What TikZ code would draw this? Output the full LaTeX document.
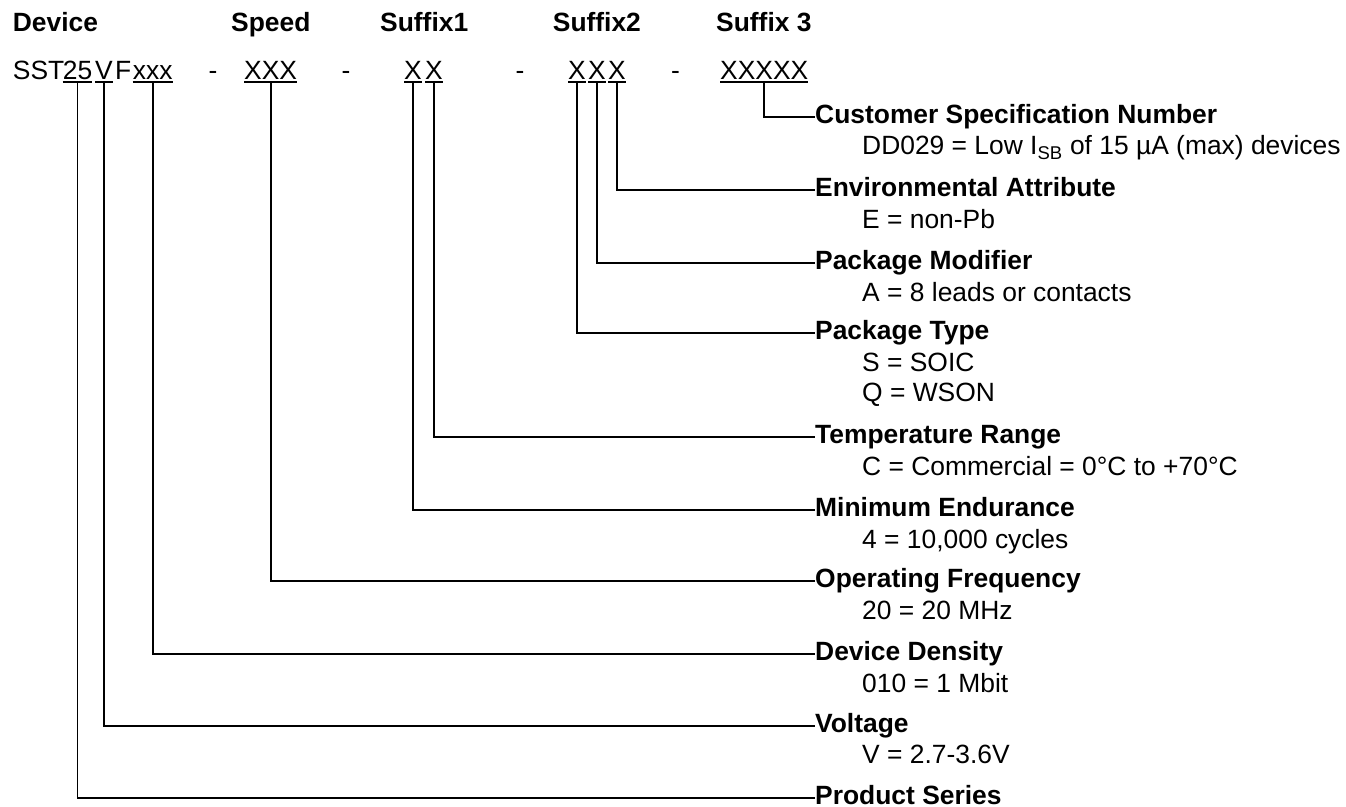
\documentclass[tikz,border=0pt]{standalone}
\usepackage{fontspec}
\setmainfont{Liberation Sans}
\usepackage{tikz}
\usetikzlibrary{positioning}

\begin{document}
\begin{tikzpicture}[x=1pt,y=-1pt,
  txt/.style={inner sep=0pt, font=\fontsize{26.4}{31}\selectfont},
  hdr/.style={txt, anchor=base west, font=\fontsize{26.4}{31}\selectfont\bfseries},
  part/.style={txt, anchor=base west},
  heading/.style={txt, anchor=west, text height=13pt, text depth=0pt, font=\fontsize{26.4}{31}\selectfont\bfseries},
  val/.style={txt, anchor=base west},
  conn/.style={line width=1.8pt},
  uline/.style={line width=1.3pt}]
\useasboundingbox (0,0) rectangle (1346,806);

% Header row
\node[hdr] (hdev) at (12.7,31) {Device};
\node[hdr] (hspd) at (231,31) {Speed};
\node[hdr] (hsf1) at (380,31) {Suffix1};
\node[hdr] (hsf2) at (552.7,31) {Suffix2};
\node[hdr] (hsf3) at (716,31) {Suffix 3};

% Part number
\node[part] (sst) at (12.7,79) {SST};
\node[part] (d25) at (62.7,79) {25};
\node[part] (volt) at (95,79) {V};
\node[part] (fam) at (115,79) {F};
\node[part] (dens) at (132.7,79) {xxx};
\node[part] (dasha) at (208.5,79) {-};
\node[part] (spd) at (244,79) {XXX};
\node[part] (dashb) at (341.5,79) {-};
\node[part] (sfa) at (404,79) {X};
\node[part] (sfb) at (425,79) {X};
\node[part] (dashc) at (515.5,79) {-};
\node[part] (sfc) at (568,79) {X};
\node[part] (sfd) at (588,79) {X};
\node[part] (sfe) at (608,79) {X};
\node[part] (dashd) at (671,79) {-};
\node[part] (cust) at (720,79) {XXXXX};

% Underlines
\foreach \n in {d25,volt,dens,spd,sfa,sfb,sfc,sfd,sfe,cust}
  \draw[uline] ([yshift=-3pt]\n.base west) -- ([yshift=-3pt]\n.base east);

% Field descriptions
\node[heading] (csn) at (815,116.7) {Customer Specification Number};
\node[val] (csnv) at (862,154.7) {DD029 = Low I\textsubscript{SB} of 15 µA (max) devices};

\node[heading] (env) at (815,190) {Environmental Attribute};
\node[val] (envv) at (862,228) {E = non-Pb};

\node[heading] (pmod) at (815,263.3) {Package Modifier};
\node[val] (pmodv) at (862,301.3) {A = 8 leads or contacts};

\node[heading] (ptype) at (815,333.3) {Package Type};
\node[val] (ptypev) at (862,371.3) {S = SOIC};
\node[val] (ptypew) at (862,401.8) {Q = WSON};

\node[heading] (temp) at (815,437.3) {Temperature Range};
\node[val] (tempv) at (862,475.3) {C = Commercial = 0°C to +70°C};

\node[heading] (endu) at (815,510) {Minimum Endurance};
\node[val] (enduv) at (862,548) {4 = 10,000 cycles};

\node[heading] (freq) at (815,581) {Operating Frequency};
\node[val] (freqv) at (862,619) {20 = 20 MHz};

\node[heading] (dsty) at (815,654) {Device Density};
\node[val] (dstyv) at (862,692) {010 = 1 Mbit};

\node[heading] (vltg) at (815,725.7) {Voltage};
\node[val] (vltgv) at (862,763.7) {V = 2.7-3.6V};

\node[heading] (ser) at (815,797.7) {Product Series};

% Connectors
\draw[conn] ([yshift=-3pt]cust.south) |- (csn.west);
\draw[conn] ([yshift=-3pt]sfe.south) |- (env.west);
\draw[conn] ([yshift=-3pt]sfd.south) |- (pmod.west);
\draw[conn] ([yshift=-3pt]sfc.south) |- (ptype.west);
\draw[conn] ([yshift=-3pt]sfb.south) |- (temp.west);
\draw[conn] ([yshift=-3pt]sfa.south) |- (endu.west);
\draw[conn] ([yshift=-3pt]spd.south) |- (freq.west);
\draw[conn] ([yshift=-3pt]dens.south) |- (dsty.west);
\draw[conn] ([yshift=-3pt]volt.south) |- (vltg.west);
\draw[conn] ([yshift=-3pt]d25.south) |- (ser.west);
\end{tikzpicture}
\end{document}
